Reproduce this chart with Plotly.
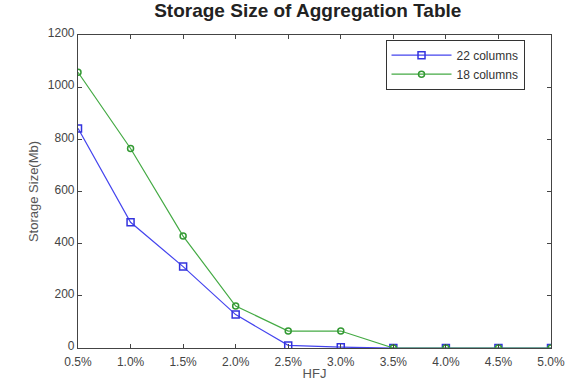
import plotly.graph_objects as go

hfj = [0.5, 1.0, 1.5, 2.0, 2.5, 3.0, 3.5, 4.0, 4.5, 5.0]
tick_labels = ["0.5%", "1.0%", "1.5%", "2.0%", "2.5%", "3.0%", "3.5%", "4.0%", "4.5%", "5.0%"]
cols22 = [842, 482, 312, 128, 10, 3, 0, 0, 0, 0]
cols18 = [1057, 765, 429, 161, 65, 65, 0, 0, 0, 0]

FONT = "Liberation Sans, Arial"
fig = go.Figure()
fig.add_trace(go.Scatter(x=hfj, y=cols22, name="22 columns", mode="lines+markers",
                         line=dict(color="#4444ee", width=1.2),
                         marker=dict(symbol="square-open", size=7, color="#3333dd", line=dict(width=1.5))))
fig.add_trace(go.Scatter(x=hfj, y=cols18, name="18 columns", mode="lines+markers",
                         line=dict(color="#44aa44", width=1.2),
                         marker=dict(symbol="circle-open", size=6, color="#339933", line=dict(width=1.5))))

axis_common = dict(showline=True, linecolor="#444", linewidth=1.2, mirror="ticks",
                   ticks="inside", ticklen=4, tickcolor="#444", showgrid=False, zeroline=False,
                   automargin=False,
                   tickfont=dict(family=FONT, size=12, color="#444"))
fig.update_layout(
    width=570, height=383,
    margin=dict(l=78, r=19, t=35, b=35),
    paper_bgcolor="white", plot_bgcolor="white",
    title=dict(text="<b>Storage Size of Aggregation Table</b>", x=0.54, xanchor="center", y=0.99, yanchor="top",
               font=dict(family=FONT, size=19, color="#222")),
    xaxis=dict(range=[0.5, 5.0], tickvals=hfj, ticktext=tick_labels, ticklabelstandoff=2,
               title=dict(text="HFJ", standoff=1, font=dict(family=FONT, size=13, color="#555")),
               **axis_common),
    yaxis=dict(range=[0, 1200], tickvals=[0, 200, 400, 600, 800, 1000, 1200], ticklabelshift=-2,
               title=dict(text="Storage Size(Mb)", standoff=6, font=dict(family=FONT, size=13, color="#555")),
               **axis_common),
    legend=dict(x=0.944, y=0.985, xanchor="right", yanchor="top",
                bgcolor="white", bordercolor="#333", borderwidth=1,
                font=dict(family=FONT, size=12, color="#333"),
                tracegroupgap=0, itemwidth=60),
    showlegend=True,
)
fig.write_html("out.html")
